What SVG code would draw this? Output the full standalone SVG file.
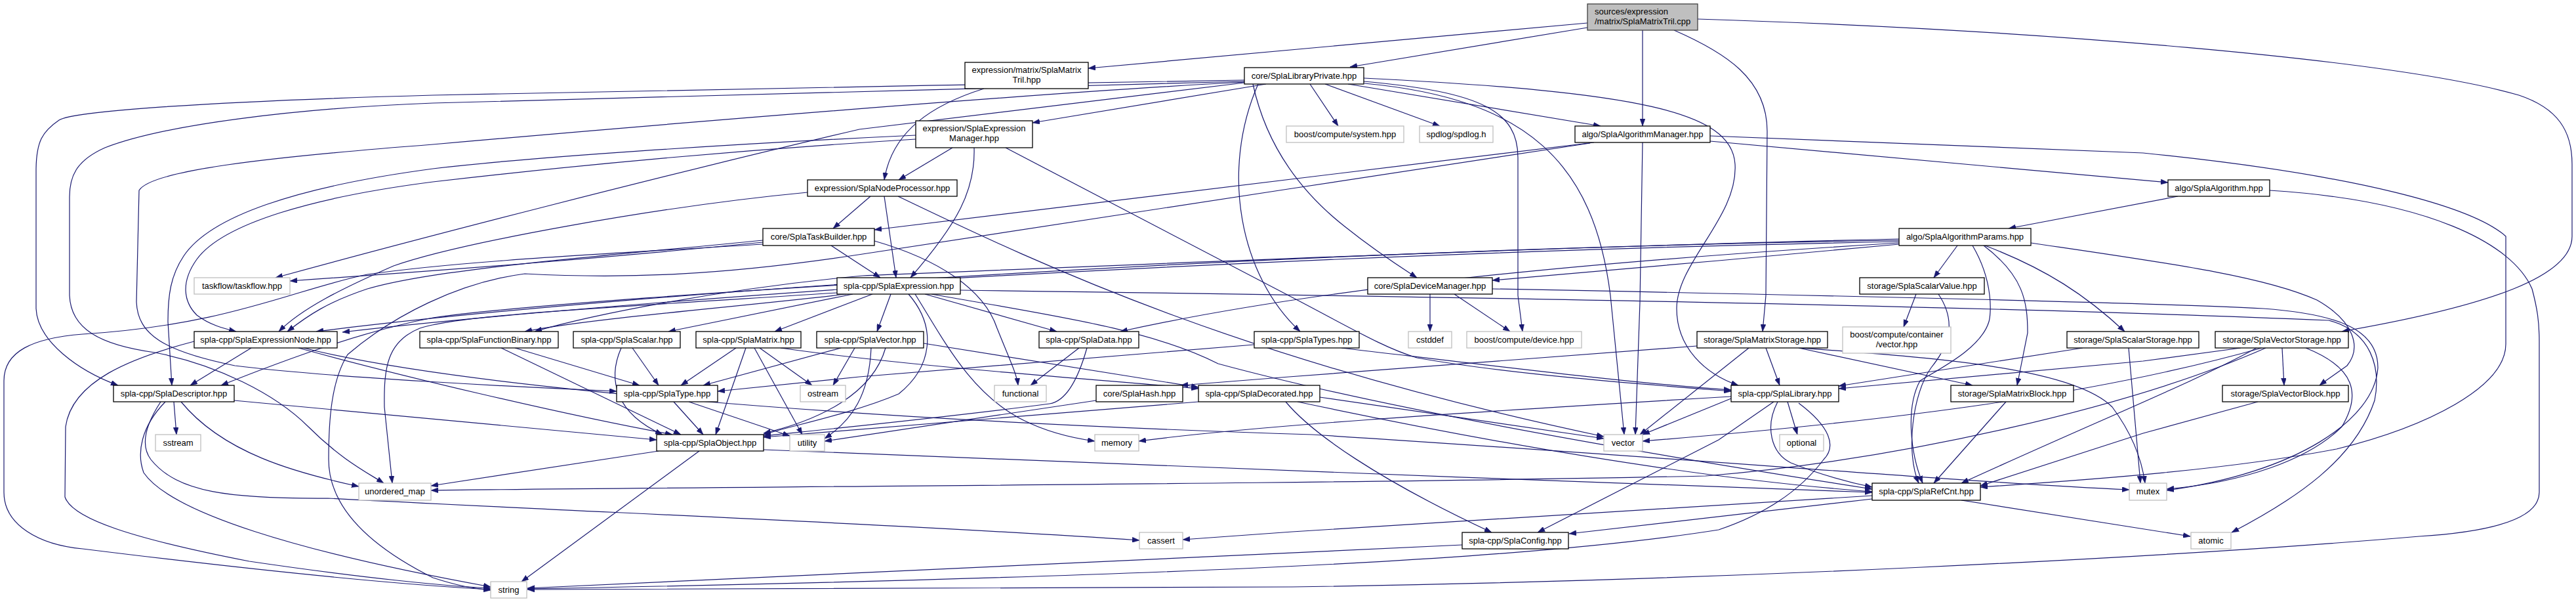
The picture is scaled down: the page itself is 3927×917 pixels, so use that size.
<svg xmlns="http://www.w3.org/2000/svg" width="3927" height="917" viewBox="0 0 3927 917">
<style>
.n rect{fill:#fff;stroke:#000;stroke-width:1.3}
.s rect{fill:#fff;stroke:#bfbfbf;stroke-width:1.3}
.r rect{fill:#bfbfbf;stroke:#404040;stroke-width:1.3}
text{font-family:"Liberation Sans",Arial,sans-serif;font-size:13px;text-anchor:middle;fill:#000}
.r text{text-anchor:start}
#connectors path{fill:none;stroke:#191970;stroke-width:1.2;marker-end:url(#ah)}
</style>
<defs>
<marker id="ah" markerWidth="11" markerHeight="8" refX="11" refY="4" orient="auto" markerUnits="userSpaceOnUse"><path d="M0,0L11,4L0,8z" fill="#191970" stroke="#191970" stroke-width="0.5"/></marker>
</defs>
<rect width="3927" height="917" fill="#fff"/>
<g id="connectors">
<path d="M2420,35 L1659,104"/>
<path d="M2420,42 L2058,102"/>
<path d="M2504,46 L2504,192"/>
<path d="M2552,46 C2630,80 2694,120 2694,200 L2692,450 L2687,505"/>
<path d="M2588,29 C3100,45 3650,90 3840,145 C3900,165 3921,200 3921,250 L3921,360 C3921,420 3800,465 3570,505"/>
<path d="M1500,135 C1420,160 1360,200 1348,274"/>
<path d="M1930,128 L1574,187"/>
<path d="M1997,128 L2040,192"/>
<path d="M2020,128 L2195,192"/>
<path d="M2055,128 L2440,192"/>
<path d="M1910,128 C1930,220 1980,290 2050,345 C2100,385 2140,410 2160,423"/>
<path d="M1918,128 C1860,260 1890,420 1982,505"/>
<path d="M2079,124 C2260,140 2314,170 2314,240 L2314,450 L2321,505"/>
<path d="M2080,127 C2330,150 2430,250 2455,450 L2476,662"/>
<path d="M2079,119 C2500,140 2640,170 2645,250 C2650,330 2556,400 2556,470 C2556,530 2600,570 2650,587"/>
<path d="M1897,126 L1310,197 C1000,270 650,360 420,423"/>
<path d="M1897,122 C1500,128 900,140 660,145 C300,155 110,170 90,183 C65,200 55,215 55,260 L55,470 C57,520 120,565 180,587"/>
<path d="M1897,124 C1500,135 900,150 660,157 C450,165 250,190 160,225 C115,245 106,270 106,300 L106,450 C108,500 150,525 236,537 C330,555 420,600 470,650 C520,700 560,720 585,736"/>
<path d="M1897,125 C1600,140 1000,190 660,220 C400,240 230,260 212,290 L208,460 C210,510 250,535 358,557 C500,575 800,590 940,596"/>
<path d="M1452,225 L1370,274"/>
<path d="M1485,225 C1487,290 1460,340 1388,423"/>
<path d="M1396,206 C1100,220 800,240 660,257 C450,285 320,330 280,390 C260,420 256,450 256,490 L262,587"/>
<path d="M1396,212 C1100,230 850,255 660,277 C480,300 340,340 300,395 C275,430 280,460 300,480 C320,495 340,500 360,505"/>
<path d="M1533,225 L1970,453 C2060,500 2110,530 2160,545 C2300,570 2500,585 2639,596"/>
<path d="M1327,299 L1270,348"/>
<path d="M1348,299 L1366,423"/>
<path d="M1231,293 C1000,315 700,370 600,405 C520,440 460,470 425,505"/>
<path d="M1369,299 C1600,410 1900,550 2445,665"/>
<path d="M1163,369 C900,395 700,410 442,428"/>
<path d="M1267,374 L1342,423"/>
<path d="M1333,367 C1430,395 1500,440 1520,500 C1540,550 1550,570 1552,587"/>
<path d="M1163,366 C900,392 660,410 560,440 C500,460 470,480 438,505"/>
<path d="M1163,372 C900,388 700,398 560,418 C450,440 350,495 126,509 C50,515 6,535 6,580 L6,750 C6,800 60,830 126,836 C400,870 600,890 748,898"/>
<path d="M1276,441 C1000,460 700,485 522,506"/>
<path d="M1290,448 C1100,470 900,485 800,505"/>
<path d="M1300,448 L1019,505"/>
<path d="M1330,448 L1181,505"/>
<path d="M1358,448 L1337,505"/>
<path d="M1410,448 L1611,505"/>
<path d="M1395,448 C1440,520 1480,600 1560,640 C1600,660 1640,668 1669,672"/>
<path d="M1385,448 C1430,500 1420,560 1370,600 C1300,630 1200,650 1164,662"/>
<path d="M1464,442 C2200,452 3000,465 3550,488 C3615,505 3630,560 3620,610 C3590,700 3500,760 3402,811"/>
<path d="M1420,448 C1600,480 1750,500 1857,554 C2100,620 2500,690 2854,745"/>
<path d="M2275,440 C2800,450 3300,462 3450,470 C3560,478 3625,500 3625,560 C3620,640 3500,720 3303,747"/>
<path d="M2180,448 L2180,505"/>
<path d="M2217,448 L2302,505"/>
<path d="M2607,215 L3305,278"/>
<path d="M2430,217 L1333,350"/>
<path d="M2424,218 L1970,287 L1315,387 C1100,420 950,425 800,417 C700,430 600,480 530,540 C505,580 501,640 501,700 C501,770 560,830 660,880 C700,893 720,896 748,899"/>
<path d="M2504,217 L2500,460 L2493,662"/>
<path d="M2607,207 L3267,233 C3604,267 3772,317 3820,360 L3820,524 C3820,590 3700,650 3562,684 C3400,715 3200,730 3019,742"/>
<path d="M3320,299 L3062,348"/>
<path d="M3460,290 C3700,305 3830,370 3860,440 C3868,470 3871,490 3871,520 L3871,750 C3871,790 3800,810 3688,817 C3300,850 2600,885 1970,894 L804,898"/>
<path d="M2895,372 L2620,397 L2275,427"/>
<path d="M2984,374 L2948,423"/>
<path d="M3007,374 C3040,430 3035,480 3032,490 C3020,530 2960,560 2927,580 C2905,620 2912,690 2931,736"/>
<path d="M3024,374 C3085,420 3091,460 3091,507 L3075,587"/>
<path d="M3026,374 C3120,410 3180,450 3239,505"/>
<path d="M3096,370 C3300,400 3450,420 3532,457 C3590,490 3600,530 3578,557 C3560,570 3545,580 3536,587"/>
<path d="M2895,364 C2400,375 1800,400 1315,420 C1100,440 900,480 815,505"/>
<path d="M2895,366 C2000,380 1000,440 482,505"/>
<path d="M2895,368 C2000,385 900,450 660,484 C550,505 430,550 337,587"/>
<path d="M2895,370 C2400,400 2000,440 1708,505"/>
<path d="M2921,448 L2902,498"/>
<path d="M2955,448 C2990,500 2960,540 2944,560 C2915,600 2905,690 2925,736"/>
<path d="M2692,530 L2713,587"/>
<path d="M2666,530 L2500,662"/>
<path d="M2742,530 L3007,587"/>
<path d="M2745,530 C2950,545 3160,560 3220,620 C3250,660 3265,700 3270,736"/>
<path d="M2587,527 L1965,574 L1800,587"/>
<path d="M3454,530 C3250,620 2900,700 2600,725 C2000,738 1000,742 657,747"/>
<path d="M3479,530 L3482,587"/>
<path d="M3416,530 L3267,550 L2803,592"/>
<path d="M3448,530 C3200,600 2900,640 2504,672"/>
<path d="M2639,607 L2504,662"/>
<path d="M3515,530 C3590,560 3600,600 3570,650 C3520,700 3420,735 3303,745"/>
<path d="M3245,530 L3263,736"/>
<path d="M3175,530 L2803,588"/>
<path d="M3440,530 C3350,580 3200,640 2990,736"/>
<path d="M3442,612 L3267,660 L3019,740"/>
<path d="M3058,612 L2948,736"/>
<path d="M2854,755 L1970,810 L1803,822"/>
<path d="M2854,760 L2392,813"/>
<path d="M2990,762 L3339,817"/>
<path d="M2725,612 L2740,662"/>
<path d="M2742,614 C2790,650 2800,680 2780,700 C2750,740 2700,780 2620,807 C2400,842 2000,875 804,897"/>
<path d="M2710,612 C2690,650 2700,690 2730,705 C2780,725 2820,735 2854,742"/>
<path d="M2704,612 L2620,670 L2344,811"/>
<path d="M2639,604 C2200,630 1900,650 1736,672"/>
<path d="M2229,830 L804,896"/>
<path d="M2012,605 L2445,668"/>
<path d="M1960,612 C2000,660 2100,730 2274,811"/>
<path d="M1978,612 C2300,680 2600,730 2854,749"/>
<path d="M1827,612 L1164,666"/>
<path d="M1671,610 L1257,672"/>
<path d="M1645,530 L1571,587"/>
<path d="M1657,530 C1640,590 1620,612 1600,615 C1450,635 1250,655 1164,664"/>
<path d="M1303,530 L1270,587"/>
<path d="M1282,530 L1072,587"/>
<path d="M1350,530 C1330,600 1250,640 1164,660"/>
<path d="M1328,530 C1325,600 1300,640 1257,668"/>
<path d="M1408,523 L1827,590"/>
<path d="M1122,530 L1038,587"/>
<path d="M1137,530 L1091,662"/>
<path d="M1150,530 L1223,662"/>
<path d="M1158,530 L1238,587"/>
<path d="M1190,530 C1400,560 1700,580 1827,592"/>
<path d="M964,530 L1004,587"/>
<path d="M947,530 C925,580 940,630 1010,662"/>
<path d="M785,530 L975,587"/>
<path d="M764,530 L1038,662"/>
<path d="M1027,612 L1072,662"/>
<path d="M1050,612 L1204,664"/>
<path d="M1066,687 L795,886"/>
<path d="M1004,687 L657,740"/>
<path d="M1164,685 C1500,700 2300,730 2854,750"/>
<path d="M383,530 L290,587"/>
<path d="M296,520 C200,545 110,580 100,650 L99,757 C110,790 200,820 380,855 C550,880 680,893 748,896"/>
<path d="M455,530 C600,570 850,630 1025,662"/>
<path d="M463,530 C700,590 1300,640 2000,662 C2600,700 3000,735 3246,746"/>
<path d="M265,612 L269,662"/>
<path d="M276,612 C340,690 450,720 547,741"/>
<path d="M252,612 C215,650 208,690 219,720 C260,780 450,840 748,894"/>
<path d="M245,612 C220,650 215,680 230,700 C270,750 350,760 500,759 C900,780 1400,800 1737,823"/>
<path d="M357,610 L1001,670"/>
<path d="M1912,525 L1310,574 L1094,596"/>
<path d="M2045,530 C2300,560 2500,585 2639,594"/>
<path d="M1276,446 C900,470 700,480 640,500 C590,520 585,560 586,620 L598,736"/>
</g>
<g id="n0" class="r"><rect x="2420" y="6" width="168" height="40"/><text x="2431" y="22">sources/expression</text><text x="2431" y="37">/matrix/SplaMatrixTril.cpp</text></g>
<g id="n1" class="n"><rect x="1471" y="95" width="188" height="40"/><text x="1565" y="111">expression/matrix/SplaMatrix</text><text x="1565" y="126">Tril.hpp</text></g>
<g id="n2" class="n"><rect x="1897" y="103" width="182" height="25"/><text x="1988" y="120">core/SplaLibraryPrivate.hpp</text></g>
<g id="n3" class="n"><rect x="1396" y="184" width="178" height="41"/><text x="1485" y="200">expression/SplaExpression</text><text x="1485" y="215">Manager.hpp</text></g>
<g id="n4" class="s"><rect x="1961" y="192" width="179" height="25"/><text x="2050.5" y="209">boost/compute/system.hpp</text></g>
<g id="n5" class="s"><rect x="2164" y="192" width="112" height="25"/><text x="2220" y="209">spdlog/spdlog.h</text></g>
<g id="n6" class="n"><rect x="2401" y="192" width="206" height="25"/><text x="2504" y="209">algo/SplaAlgorithmManager.hpp</text></g>
<g id="n7" class="n"><rect x="1231" y="274" width="228" height="25"/><text x="1345" y="291">expression/SplaNodeProcessor.hpp</text></g>
<g id="n8" class="n"><rect x="3305" y="274" width="155" height="25"/><text x="3382.5" y="291">algo/SplaAlgorithm.hpp</text></g>
<g id="n9" class="n"><rect x="1163" y="348" width="170" height="26"/><text x="1248" y="365">core/SplaTaskBuilder.hpp</text></g>
<g id="n10" class="n"><rect x="2895" y="348" width="201" height="26"/><text x="2995.5" y="365">algo/SplaAlgorithmParams.hpp</text></g>
<g id="n11" class="s"><rect x="296" y="423" width="146" height="25"/><text x="369" y="440">taskflow/taskflow.hpp</text></g>
<g id="n12" class="n"><rect x="1276" y="423" width="188" height="25"/><text x="1370" y="440">spla-cpp/SplaExpression.hpp</text></g>
<g id="n13" class="n"><rect x="2085" y="423" width="190" height="25"/><text x="2180" y="440">core/SplaDeviceManager.hpp</text></g>
<g id="n14" class="n"><rect x="2835" y="423" width="190" height="25"/><text x="2930" y="440">storage/SplaScalarValue.hpp</text></g>
<g id="n15" class="n"><rect x="296" y="505" width="218" height="25"/><text x="405" y="522">spla-cpp/SplaExpressionNode.hpp</text></g>
<g id="n16" class="n"><rect x="640" y="505" width="211" height="25"/><text x="745.5" y="522">spla-cpp/SplaFunctionBinary.hpp</text></g>
<g id="n17" class="n"><rect x="874" y="505" width="163" height="25"/><text x="955.5" y="522">spla-cpp/SplaScalar.hpp</text></g>
<g id="n18" class="n"><rect x="1061" y="505" width="160" height="25"/><text x="1141" y="522">spla-cpp/SplaMatrix.hpp</text></g>
<g id="n19" class="n"><rect x="1245" y="505" width="163" height="25"/><text x="1326.5" y="522">spla-cpp/SplaVector.hpp</text></g>
<g id="n20" class="n"><rect x="1584" y="505" width="152" height="25"/><text x="1660" y="522">spla-cpp/SplaData.hpp</text></g>
<g id="n21" class="n"><rect x="1912" y="505" width="160" height="25"/><text x="1992" y="522">spla-cpp/SplaTypes.hpp</text></g>
<g id="n22" class="s"><rect x="2147" y="505" width="66" height="25"/><text x="2180" y="522">cstddef</text></g>
<g id="n23" class="s"><rect x="2236" y="505" width="175" height="25"/><text x="2323.5" y="522">boost/compute/device.hpp</text></g>
<g id="n24" class="n"><rect x="2587" y="505" width="199" height="25"/><text x="2686.5" y="522">storage/SplaMatrixStorage.hpp</text></g>
<g id="n25" class="s"><rect x="2809" y="498" width="165" height="40"/><text x="2891.5" y="514">boost/compute/container</text><text x="2891.5" y="529">/vector.hpp</text></g>
<g id="n26" class="n"><rect x="3151" y="505" width="201" height="25"/><text x="3251.5" y="522">storage/SplaScalarStorage.hpp</text></g>
<g id="n27" class="n"><rect x="3377" y="505" width="203" height="25"/><text x="3478.5" y="522">storage/SplaVectorStorage.hpp</text></g>
<g id="n28" class="n"><rect x="173" y="587" width="184" height="25"/><text x="265" y="604">spla-cpp/SplaDescriptor.hpp</text></g>
<g id="n29" class="n"><rect x="940" y="587" width="154" height="25"/><text x="1017" y="604">spla-cpp/SplaType.hpp</text></g>
<g id="n30" class="s"><rect x="1220" y="587" width="69" height="25"/><text x="1254.5" y="604">ostream</text></g>
<g id="n31" class="s"><rect x="1516" y="587" width="79" height="25"/><text x="1555.5" y="604">functional</text></g>
<g id="n32" class="n"><rect x="1671" y="587" width="132" height="25"/><text x="1737" y="604">core/SplaHash.hpp</text></g>
<g id="n33" class="n"><rect x="1827" y="587" width="185" height="25"/><text x="1919.5" y="604">spla-cpp/SplaDecorated.hpp</text></g>
<g id="n34" class="n"><rect x="2639" y="587" width="164" height="25"/><text x="2721" y="604">spla-cpp/SplaLibrary.hpp</text></g>
<g id="n35" class="n"><rect x="2974" y="587" width="187" height="25"/><text x="3067.5" y="604">storage/SplaMatrixBlock.hpp</text></g>
<g id="n36" class="n"><rect x="3388" y="587" width="192" height="25"/><text x="3484" y="604">storage/SplaVectorBlock.hpp</text></g>
<g id="n37" class="s"><rect x="237" y="662" width="69" height="25"/><text x="271.5" y="679">sstream</text></g>
<g id="n38" class="n"><rect x="1001" y="662" width="163" height="25"/><text x="1082.5" y="679">spla-cpp/SplaObject.hpp</text></g>
<g id="n39" class="s"><rect x="1204" y="662" width="53" height="25"/><text x="1230.5" y="679">utility</text></g>
<g id="n40" class="s"><rect x="1669" y="662" width="67" height="25"/><text x="1702.5" y="679">memory</text></g>
<g id="n41" class="s"><rect x="2445" y="662" width="59" height="25"/><text x="2474.5" y="679">vector</text></g>
<g id="n42" class="s"><rect x="2713" y="662" width="67" height="25"/><text x="2746.5" y="679">optional</text></g>
<g id="n43" class="s"><rect x="547" y="736" width="110" height="26"/><text x="602" y="753">unordered_map</text></g>
<g id="n44" class="n"><rect x="2854" y="736" width="165" height="26"/><text x="2936.5" y="753">spla-cpp/SplaRefCnt.hpp</text></g>
<g id="n45" class="s"><rect x="3246" y="736" width="57" height="26"/><text x="3274.5" y="753">mutex</text></g>
<g id="n46" class="s"><rect x="1737" y="811" width="66" height="25"/><text x="1770" y="828">cassert</text></g>
<g id="n47" class="n"><rect x="2229" y="811" width="162" height="25"/><text x="2310" y="828">spla-cpp/SplaConfig.hpp</text></g>
<g id="n48" class="s"><rect x="3340" y="811" width="61" height="25"/><text x="3370.5" y="828">atomic</text></g>
<g id="n49" class="s"><rect x="748" y="886" width="55" height="25"/><text x="775.5" y="903">string</text></g>
</svg>
